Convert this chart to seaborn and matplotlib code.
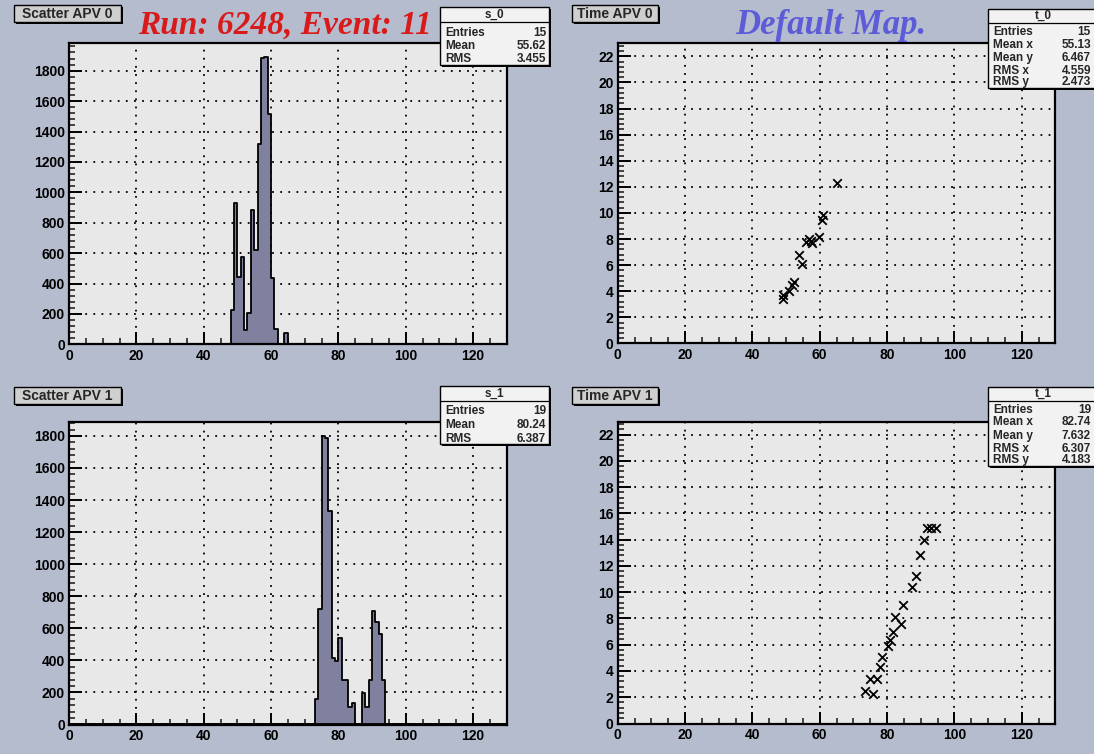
import numpy as np
import pandas as pd
import matplotlib
matplotlib.use("Agg")
import matplotlib.pyplot as plt
from matplotlib.patches import Rectangle
from matplotlib.lines import Line2D
from matplotlib.ticker import MultipleLocator, FixedLocator
import seaborn as sns

# ---- charge per strip (bin low edge, summed ADC) ----
apv0_bins = [48, 49, 50, 51, 52, 53, 54, 55, 56, 57, 58, 59, 60, 61, 62, 63, 64]
apv0_counts = [226, 928, 445, 577, 95, 204, 884, 621, 1318, 1881, 1888, 1515, 435, 99, 0, 0, 77]

apv1_bins = [73, 74, 75, 76, 77, 78, 79, 80, 81, 82, 83, 84, 85, 86, 87, 88, 89, 90, 91, 92, 93]
apv1_counts = [160, 721, 1800, 1790, 1329, 416, 395, 540, 280, 275, 107, 134, 0, 0,
               195, 107, 278, 711, 639, 566, 278]

# ---- strip vs. peak time ----
apv0_strip = [65.0, 61.0, 60.7, 59.8, 57.8, 56.8, 55.8, 57.3, 53.9, 54.6, 52.3, 51.7, 50.8, 49.2, 49.0]
apv0_time = [12.3, 9.85, 9.45, 8.15, 7.7, 8.0, 7.75, 7.85, 6.75, 6.1, 4.7, 4.5, 4.0, 3.7, 3.4]

apv1_strip = [92.0, 93.2, 94.4, 91.0, 89.9, 88.6, 87.4, 84.6, 82.5, 84.1, 81.8, 81.0, 80.3,
              78.5, 78.0, 74.8, 77.0, 73.4, 75.9]
apv1_time = [14.9, 14.9, 14.9, 13.95, 12.8, 11.25, 10.4, 9.0, 8.13, 7.6, 6.95, 6.38, 5.87,
             5.05, 4.28, 3.38, 3.38, 2.49, 2.28]

# ---- statistics boxes ----
stats_s0 = [("Entries", "15"), ("Mean", "55.62"), ("RMS", "3.455")]
stats_t0 = [("Entries", "15"), ("Mean x", "55.13"), ("Mean y", "6.467"),
            ("RMS x", "4.559"), ("RMS y", "2.473")]
stats_s1 = [("Entries", "19"), ("Mean", "80.24"), ("RMS", "6.387")]
stats_t1 = [("Entries", "19"), ("Mean x", "82.74"), ("Mean y", "7.632"),
            ("RMS x", "6.307"), ("RMS y", "4.183")]

x_ticks = [0, 20, 40, 60, 80, 100, 120]
hist_yticks = [0, 200, 400, 600, 800, 1000, 1200, 1400, 1600, 1800]
time_yticks = [0, 2, 4, 6, 8, 10, 12, 14, 16, 18, 20, 22]

# ---- styling ----
sns.set_style("ticks")
SANS = ["Liberation Sans", "DejaVu Sans"]
SERIF = ["Liberation Serif", "DejaVu Serif"]
plt.rcParams["font.family"] = SANS
plt.rcParams["font.weight"] = "bold"

CANVAS = "#b5bccd"
FRAME = "#e8e8e8"
HISTFILL = "#80809f"

W, H = 1094, 754
fig = plt.figure(figsize=(W / 100, H / 100), dpi=100, facecolor=CANVAS)


def fx(x):
    return x / W


def fy(y):
    return 1 - y / H


def panel(left, top, right, bottom):
    ax = fig.add_axes([fx(left), fy(bottom), (right - left) / W, (bottom - top) / H])
    ax.set_facecolor(FRAME)
    for s in ax.spines.values():
        s.set_linewidth(1.6)
        s.set_color("black")
    return ax


def style_axes(ax, yticks, ymax, yminor):
    ax.set_xlim(0, 130)
    ax.set_ylim(0, ymax)
    ax.xaxis.set_major_locator(FixedLocator(x_ticks))
    ax.xaxis.set_minor_locator(MultipleLocator(5))
    ax.yaxis.set_major_locator(FixedLocator(yticks))
    ax.yaxis.set_minor_locator(MultipleLocator(yminor))
    ax.set_xticklabels([str(t) for t in x_ticks])
    ax.set_yticklabels([str(t) for t in yticks])
    ax.tick_params(which="major", direction="in", length=9, width=1.4,
                   top=False, right=False, labelsize=10, pad=3, colors="black")
    ax.tick_params(which="minor", direction="in", length=4.5, width=1.2,
                   top=False, right=False)
    ax.set_axisbelow(True)
    ax.grid(True, which="major", color="black", linestyle=(0, (1, 3.5)), linewidth=1.3)
    ax.set_xlabel("")
    ax.set_ylabel("")


def draw_hist(ax, bins, counts):
    df = pd.DataFrame({"strip": np.asarray(bins, dtype=float) + 0.5,
                       "adc": np.asarray(counts, dtype=float)})
    sns.histplot(data=df, x="strip", weights="adc", binwidth=1, binrange=(0, 130),
                 element="step", fill=True, color=HISTFILL, edgecolor="black",
                 linewidth=1.3, alpha=1, ax=ax)


def draw_scatter(ax, xs, ys):
    df = pd.DataFrame({"strip": xs, "time": ys})
    sns.scatterplot(data=df, x="strip", y="time", marker="x", color="black", s=38,
                    linewidth=1.3, ax=ax)


def label_box(x0, y0, x1, y1, text):
    fig.patches.append(Rectangle((fx(x0 + 2), fy(y1 + 2)), (x1 - x0) / W, (y1 - y0) / H,
                                 transform=fig.transFigure, facecolor="black",
                                 edgecolor="none", zorder=5))
    fig.patches.append(Rectangle((fx(x0), fy(y1)), (x1 - x0) / W, (y1 - y0) / H,
                                 transform=fig.transFigure, facecolor="#cfcfcf",
                                 edgecolor="black", linewidth=1.0, zorder=6))
    fig.text(fx((x0 + x1) / 2), fy((y0 + y1) / 2), text, ha="center", va="center",
             fontsize=10, fontweight="bold", zorder=7)


def stats_box(x0, y0, x1, y1, name, rows, header_y, sep_y, row_ys):
    fig.patches.append(Rectangle((fx(x0 + 2), fy(y1 + 2)), (x1 - x0) / W, (y1 - y0) / H,
                                 transform=fig.transFigure, facecolor="black",
                                 edgecolor="none", zorder=5))
    fig.patches.append(Rectangle((fx(x0), fy(y1)), (x1 - x0) / W, (y1 - y0) / H,
                                 transform=fig.transFigure, facecolor="#f2f2f2",
                                 edgecolor="black", linewidth=1.0, zorder=6))
    fig.lines.append(Line2D([fx(x0), fx(x1)], [fy(sep_y), fy(sep_y)],
                            transform=fig.transFigure, color="black", linewidth=0.9,
                            zorder=7))
    fig.text(fx((x0 + x1) / 2), fy(header_y), name, ha="center", va="center",
             fontsize=8.5, fontweight="bold", zorder=8)
    right = min(x1, W) - 3
    for (lab, val), ry in zip(rows, row_ys):
        fig.text(fx(x0 + 5), fy(ry), lab, ha="left", va="center", fontsize=8.5,
                 fontweight="bold", zorder=8)
        fig.text(fx(right), fy(ry), val, ha="right", va="center", fontsize=8.5,
                 fontweight="bold", zorder=8)


# ---- panels ----
ax_s0 = panel(69, 43.3, 506.7, 344.4)
draw_hist(ax_s0, apv0_bins, apv0_counts)
style_axes(ax_s0, hist_yticks, 1980, 40)

ax_t0 = panel(617.7, 43.3, 1055.4, 343.4)
draw_scatter(ax_t0, apv0_strip, apv0_time)
style_axes(ax_t0, time_yticks, 23, 0.4)

ax_s1 = panel(69, 421.5, 506.7, 724.5)
draw_hist(ax_s1, apv1_bins, apv1_counts)
style_axes(ax_s1, hist_yticks, 1890, 40)

ax_t1 = panel(617.7, 421.5, 1055.4, 723.5)
draw_scatter(ax_t1, apv1_strip, apv1_time)
style_axes(ax_t1, time_yticks, 23, 0.4)

# ---- pad titles ----
label_box(14, 5, 121, 22, "Scatter APV 0")
label_box(572, 5, 658, 22, "Time APV 0")
label_box(14, 387, 121, 404, "Scatter APV 1")
label_box(572, 387, 658, 404, "Time APV 1")

# ---- run / map banners ----
fig.text(fx(285), fy(34), "Run: 6248, Event: 11", ha="center", va="baseline",
         family=SERIF, style="italic", fontweight="bold",
         fontsize=24, color="#d81a1a", zorder=8)
fig.text(fx(831), fy(34), "Default Map.", ha="center", va="baseline",
         family=SERIF, style="italic", fontweight="bold",
         fontsize=25, color="#5c5cd8", zorder=8)

# ---- statistics ----
stats_box(440, 7, 549, 65, "s_0", stats_s0, 15, 22, [32.5, 46, 59.5])
stats_box(988, 9, 1098, 88, "t_0", stats_t0, 16, 23, [32, 44.5, 58, 70.5, 82])
stats_box(440, 386, 549, 444, "s_1", stats_s1, 394, 401, [411.5, 425, 438.5])
stats_box(988, 387, 1098, 466, "t_1", stats_t1, 394, 401, [410, 422.5, 436, 448.5, 460])

fig.savefig("out.png", dpi=100, facecolor=CANVAS)
